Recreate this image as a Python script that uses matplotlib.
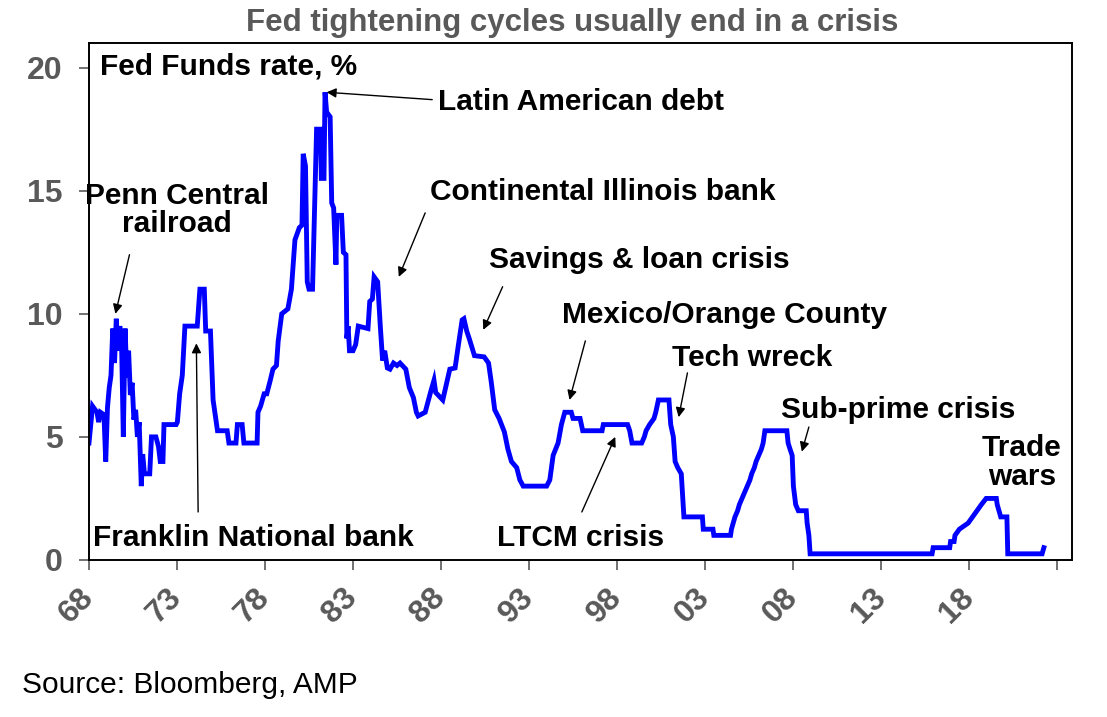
import matplotlib
matplotlib.use("Agg")
import matplotlib.pyplot as plt

plt.rcParams['font.family'] = ['Liberation Sans', 'DejaVu Sans']

# Fed Funds rate (upper bound) as (decimal year, %)
years = [1968.0, 1968.2, 1968.45, 1968.55, 1968.65, 1968.85, 1968.95, 1969.05, 1969.15, 1969.25,
         1969.35, 1969.45, 1969.55, 1969.65, 1969.75, 1969.85, 1969.95, 1970.05, 1970.15, 1970.25,
         1970.35, 1970.45, 1970.55, 1970.65, 1970.75, 1970.85, 1970.97, 1971.05, 1971.15, 1971.45,
         1971.55, 1971.8, 1971.95, 1972.05, 1972.2, 1972.26, 1972.95, 1973.02, 1973.15, 1973.3,
         1973.45, 1974.15, 1974.3, 1974.55, 1974.63, 1974.9, 1975.05, 1975.15, 1975.3, 1975.85,
         1975.95, 1976.35, 1976.43, 1976.7, 1976.8, 1977.55, 1977.6, 1977.75, 1977.95, 1978.1,
         1978.3, 1978.45, 1978.65, 1978.75, 1978.95, 1979.3, 1979.5, 1979.7, 1979.95, 1980.1,
         1980.17, 1980.3, 1980.4, 1980.5, 1980.7, 1980.93, 1981.15, 1981.2, 1981.35, 1981.41,
         1981.5, 1981.7, 1981.79, 1981.9, 1982.03, 1982.08, 1982.35, 1982.45, 1982.6, 1982.65,
         1982.72, 1982.8, 1983.0, 1983.15, 1983.3, 1983.85, 1983.95, 1984.1, 1984.2, 1984.4,
         1984.55, 1984.68, 1984.8, 1984.95, 1985.1, 1985.3, 1985.5, 1985.67, 1986.0, 1986.2,
         1986.43, 1986.6, 1986.7, 1987.1, 1987.4, 1987.6, 1987.7, 1988.1, 1988.5, 1988.8,
         1988.98, 1989.2, 1989.3, 1989.46, 1989.6, 1989.9, 1990.45, 1990.7, 1990.85, 1991.05,
         1991.3, 1991.6, 1991.8, 1992.0, 1992.3, 1992.48, 1992.67, 1994.0, 1994.18, 1994.37,
         1994.65, 1994.84, 1995.03, 1995.4, 1995.5, 1995.9, 1996.05, 1997.15, 1997.22, 1998.6,
         1998.72, 1998.85, 1999.4, 1999.55, 1999.65, 1999.85, 2000.1, 2000.2, 2000.35, 2000.95,
         2001.05, 2001.2, 2001.3, 2001.45, 2001.65, 2001.8, 2002.85, 2002.9, 2003.45, 2003.5,
         2004.45, 2004.5, 2004.6, 2004.7, 2004.85, 2004.95, 2005.1, 2005.25, 2005.4, 2005.55,
         2005.65, 2005.8, 2005.9, 2006.05, 2006.2, 2006.3, 2006.4, 2007.65, 2007.72, 2007.83,
         2007.95, 2008.02, 2008.15, 2008.3, 2008.75, 2008.8, 2008.9, 2008.97, 2015.9, 2015.96,
         2016.9, 2016.95, 2017.15, 2017.2, 2017.45, 2017.95, 2018.2, 2018.45, 2018.7, 2018.97,
         2019.55, 2019.6, 2019.7, 2019.8, 2020.15, 2020.2, 2022.15, 2022.25]
rates = [4.75, 6.25, 6.0, 5.6, 6.0, 5.9, 4.0, 6.2, 7.0, 7.5,
         9.4, 8.0, 9.8, 8.5, 9.5, 8.8, 5.0, 9.4, 7.4, 8.5,
         6.7, 7.2, 5.7, 6.1, 5.0, 5.6, 3.0, 4.3, 3.5, 3.5,
         5.0, 5.0, 4.6, 4.0, 4.0, 5.5, 5.5, 5.6, 6.75, 7.5,
         9.5, 9.5, 11.0, 11.0, 9.3, 9.3, 6.5, 6.0, 5.25, 5.25,
         4.75, 4.75, 5.5, 5.5, 4.75, 4.75, 6.0, 6.25, 6.75, 6.75,
         7.3, 7.75, 7.9, 8.9, 10.0, 10.2, 11.0, 13.0, 13.5, 13.6,
         16.5, 16.0, 11.3, 11.0, 11.0, 17.5, 17.5, 15.5, 15.5, 19.0,
         18.2, 18.0, 14.5, 14.3, 12.0, 14.0, 14.0, 12.5, 12.4, 9.0,
         9.5, 8.5, 8.5, 8.75, 9.5, 9.4, 10.5, 10.6, 11.5, 11.3,
         9.5, 8.1, 8.5, 7.8, 7.75, 8.0, 7.9, 8.0, 7.75, 7.0,
         6.6, 6.0, 5.85, 6.0, 6.8, 7.3, 6.8, 6.5, 7.75, 7.8,
         8.7, 9.75, 9.8, 9.3, 9.0, 8.3, 8.25, 8.0, 7.25, 6.1,
         5.75, 5.2, 4.5, 4.0, 3.75, 3.25, 3.0, 3.0, 3.25, 4.25,
         4.75, 5.5, 6.0, 6.0, 5.75, 5.75, 5.25, 5.25, 5.5, 5.5,
         5.25, 4.75, 4.75, 5.0, 5.25, 5.5, 5.75, 6.0, 6.5, 6.5,
         5.5, 5.0, 4.0, 3.75, 3.5, 1.75, 1.75, 1.25, 1.25, 1.0,
         1.0, 1.25, 1.5, 1.75, 2.0, 2.25, 2.5, 2.75, 3.0, 3.25,
         3.5, 3.75, 4.0, 4.25, 4.5, 4.75, 5.25, 5.25, 4.75, 4.5,
         4.25, 3.0, 2.25, 2.0, 2.0, 1.5, 1.0, 0.25, 0.25, 0.5,
         0.5, 0.75, 0.75, 1.0, 1.25, 1.5, 1.75, 2.0, 2.25, 2.5,
         2.5, 2.25, 2.0, 1.75, 1.75, 0.25, 0.25, 0.5]

tick_years = [1968, 1973, 1978, 1983, 1988, 1993, 1998, 2003, 2008, 2013, 2018, 2023]
tick_labels = ['68', '73', '78', '83', '88', '93', '98', '03', '08', '13', '18', '']

# (label, text x, text y, arrow tip x, arrow tip y, arrow tail x, arrow tail y)
events = [
    ('Latin American debt', 1987.8, 18.6, 1981.5, 19.0, 1987.5, 18.7),
    ('Continental Illinois bank', 1987.4, 14.95, 1985.6, 11.5, 1987.1, 14.1),
    ('Savings & loan crisis', 1990.7, 12.2, 1990.4, 9.35, 1991.5, 11.1),
    ('Mexico/Orange County', 1994.9, 9.97, 1995.3, 6.5, 1996.2, 8.9),
    ('Tech wreck', 2001.1, 8.22, 2001.5, 5.8, 2002.0, 7.6),
    ('Sub-prime crisis', 2007.3, 6.08, 2008.5, 4.4, 2008.9, 5.4),
]

fs = 21.5

fig = plt.figure(figsize=(11.07, 7.17), dpi=100)
ax = fig.add_axes([0.0804, 0.219, 0.888, 0.721])

ax.plot(years, rates, color='#0000FF', lw=3.5, solid_joinstyle='miter')

ax.set_xlim(1968, 2023.85)
ax.set_ylim(0, 21.0)
ax.set_yticks([0, 5, 10, 15, 20])
ax.set_xticks(tick_years)
ax.set_xticklabels(tick_labels, rotation=45, ha='right', va='center', rotation_mode='anchor')
ax.tick_params(axis='both', colors='#595959', labelsize=23, length=7, width=1.2, direction='out')
ax.tick_params(axis='y', pad=12)
ax.tick_params(axis='x', pad=17)
for lab in ax.get_xticklabels() + ax.get_yticklabels():
    lab.set_fontweight('bold')
    lab.set_color('#595959')
for s in ax.spines.values():
    s.set_color('black')
    s.set_linewidth(1.4)

fig.text(0.517, 0.968, 'Fed tightening cycles usually end in a crisis', ha='center', va='center',
         fontsize=22.5, fontweight='bold', color='#595959')
ax.text(1968.6, 20.05, 'Fed Funds rate, %', fontsize=fs, fontweight='bold', ha='left', va='center')

arrow = dict(arrowstyle='-|>', color='black', lw=1.0, mutation_scale=14, shrinkA=0, shrinkB=0)
for label, tx, ty, hx, hy, sx, sy in events:
    ax.text(tx, ty, label, fontsize=fs, fontweight='bold', ha='left', va='center')
    ax.annotate('', xy=(hx, hy), xytext=(sx, sy), arrowprops=arrow)

ax.text(1973.0, 14.2, 'Penn Central\nrailroad', fontsize=fs, fontweight='bold', ha='center',
        va='center', linespacing=1.0)
ax.annotate('', xy=(1969.5, 10.0), xytext=(1970.3, 12.4), arrowprops=arrow)

ax.text(1968.2, 0.88, 'Franklin National bank', fontsize=fs, fontweight='bold', ha='left', va='center')
ax.annotate('', xy=(1974.1, 8.8), xytext=(1974.2, 1.95), arrowprops=arrow)

ax.text(1991.2, 0.9, 'LTCM crisis', fontsize=fs, fontweight='bold', ha='left', va='center')
ax.annotate('', xy=(1997.9, 5.0), xytext=(1996.0, 1.95), arrowprops=arrow)

ax.text(2021.0, 3.95, 'Trade\nwars', fontsize=fs, fontweight='bold', ha='center', va='center',
        linespacing=1.05)

fig.text(0.02, 0.045, 'Source: Bloomberg, AMP', fontsize=21.5, ha='left', va='center')

fig.savefig('out.png', dpi=100)
